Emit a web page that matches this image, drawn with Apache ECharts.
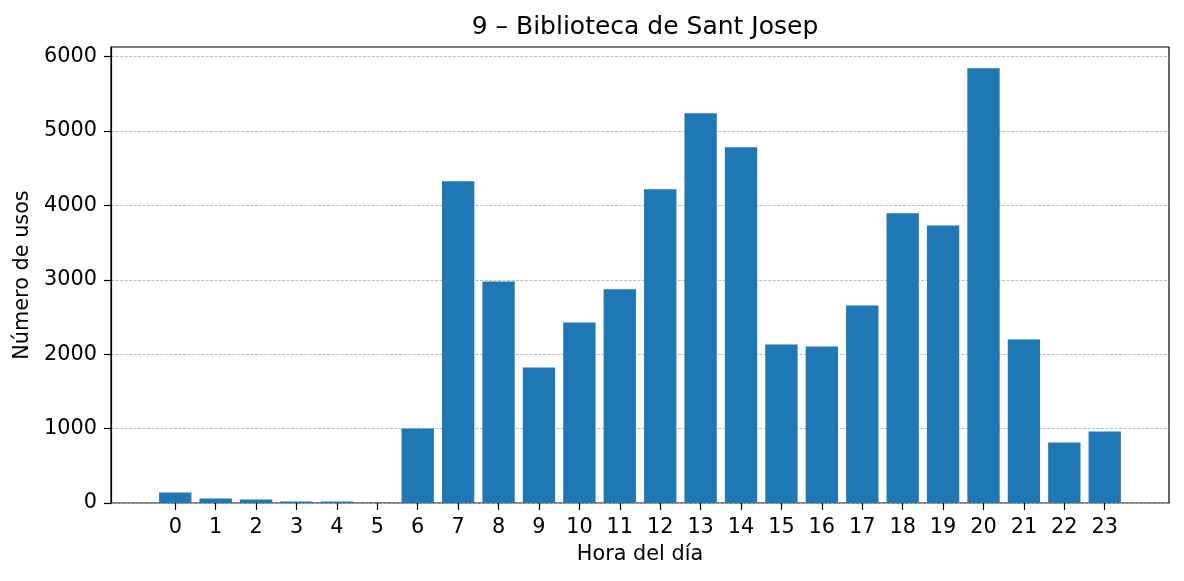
<!DOCTYPE html>
<html lang="es">
<head>
	<meta charset="UTF-8">
	<title>9 – Biblioteca de Sant Josep</title>
	<style>
	body, div {
		margin: 0;
		padding: 0;
	}
	#chart {
		width: 1184px;
		height: 581px;
	}
	</style>
</head>
<body>
	<div id="chart"></div>
	<script src="https://cdn.jsdelivr.net/npm/echarts@6/dist/echarts.min.js"></script>
	<script>
	// horas del día y número de usos
	var horas = ['0', '1', '2', '3', '4', '5', '6', '7', '8', '9', '10', '11', '12', '13', '14', '15', '16', '17', '18', '19', '20', '21', '22', '23'];
	var usos = [140, 60, 47, 20, 20, 5, 1000, 4324, 2979, 1823, 2428, 2872, 4217, 5239, 4781, 2132, 2105, 2656, 3894, 3732, 5844, 2199, 814, 962];
	var yTicks = [0, 1000, 2000, 3000, 4000, 5000, 6000];

	var font = 'DejaVu Sans';
	var yMax = 6130;
	// paso entre barras (px) y margen como en matplotlib (0.05 del rango)
	var frameL = 111, frameR = 15;
	var paso = (1184 - frameL - frameR) / 26.18;
	var innerL = frameL + (1.59 - 0.5) * paso;
	var innerR = frameR + (1.59 - 0.5) * paso;

	var chart = echarts.init(document.getElementById('chart'));
	chart.setOption({
		animation: false,
		title: {
			text: '9 – Biblioteca de Sant Josep',
			left: 640,
			textAlign: 'center',
			top: 10,
			textStyle: { fontFamily: font, fontSize: 25, fontWeight: 'normal', color: '#000' }
		},
		grid: [
			{ left: frameL, right: frameR, top: 47, bottom: 78, show: true, borderColor: '#000', borderWidth: 1.2, backgroundColor: 'transparent' },
			{ left: innerL, right: innerR, top: 47, bottom: 78 }
		],
		xAxis: [{
			gridIndex: 0,
			type: 'value',
			min: 0, max: 1,
			show: false
		}, {
			gridIndex: 1,
			type: 'category',
			data: horas,
			name: 'Hora del día',
			nameLocation: 'middle',
			nameGap: 41,
			nameTextStyle: { fontFamily: font, fontSize: 20.8, color: '#000' },
			axisLine: { show: false },
			splitLine: { show: false },
			axisTick: { show: true, alignWithLabel: true, length: 7, lineStyle: { color: '#000', width: 1.2 } },
			axisLabel: { interval: 0, fontFamily: font, fontSize: 20.8, color: '#000', margin: 14 }
		}],
		yAxis: [{
			gridIndex: 0,
			type: 'value',
			min: 0,
			max: yMax,
			name: 'Número de usos',
			nameLocation: 'middle',
			nameGap: 73,
			nameTextStyle: { fontFamily: font, fontSize: 20.8, color: '#000' },
			axisLine: { show: true, onZero: false, lineStyle: { color: '#000', width: 1.2 } },
			axisTick: { show: true, length: 7, customValues: yTicks, lineStyle: { color: '#000', width: 1.2 } },
			axisLabel: {
				customValues: yTicks, fontFamily: font, fontSize: 20.8, color: '#000', margin: 14,
				formatter: function(v) { return String(v); }
			},
			splitLine: { show: true, lineStyle: { color: '#b0b0b0', type: [3, 1.5], width: 0.8 } }
		}, {
			gridIndex: 1,
			type: 'value',
			min: 0,
			max: yMax,
			show: false,
			splitLine: { show: false }
		}],
		series: [{
			type: 'bar',
			xAxisIndex: 1,
			yAxisIndex: 1,
			data: usos,
			barWidth: '80%',
			itemStyle: { color: '#1f77b4', borderWidth: 0 }
		}]
	});
	</script>
</body>
</html>
